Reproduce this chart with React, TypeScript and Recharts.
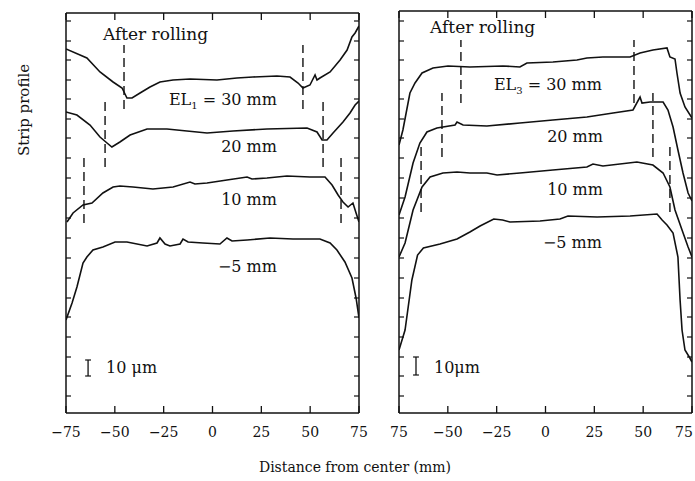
import React from 'react';
import { LineChart, Line, XAxis, YAxis, ReferenceLine, ReferenceDot } from 'recharts';

// x: distance from center (mm), y: profile height above the frame bottom (chart units, 10 um = 16)
const X_TICKS = [-75, -50, -25, 0, 25, 50, 75];
const X_LABELS_LEFT = ['−75', '−50', '−25', '0', '25', '50', '75'];
const X_LABELS_RIGHT = ['75', '−50', '−25', '0', '25', '50', '75'];
const Y_TICKS = [17, 37, 56, 76, 96, 115, 135, 155, 175, 195, 215, 235, 255, 275, 294, 314, 333, 353, 372, 392];

// left panel, EL1 = 30, 20, 10, -5 mm
const left30: [number, number][] = [
  [-75, 364], [-64.3, 355], [-57.6, 341], [-50.9, 331], [-46.3, 325], [-43.8, 315], [-41.2, 315],
  [-37.1, 320], [-32, 326], [-26.9, 331], [-20.2, 333], [-11.5, 334], [2.3, 333], [12.5, 335],
  [20.7, 336], [33, 337], [39.7, 336], [43.8, 330], [46.3, 325], [49.9, 328], [52.5, 338],
  [53.5, 333], [55, 335], [60.2, 341], [65.3, 353], [68.9, 363], [71.4, 376], [73, 380], [75, 387],
];
const left20: [number, number][] = [
  [-75, 301], [-69.4, 298], [-62.7, 288], [-57.6, 276], [-54, 270], [-51.5, 266], [-47.4, 271],
  [-42.2, 278], [-33.5, 284], [-23.3, 284], [-13.1, 282], [-2.8, 280], [10.5, 282], [27.9, 284],
  [48.4, 285], [53.5, 281], [56.1, 273], [58.6, 273], [61.7, 280], [66.8, 291], [70.4, 300],
  [73, 308], [75, 312],
];
const left10: [number, number][] = [
  [-74.5, 191], [-71.4, 200], [-66.3, 208], [-61.7, 210], [-56.1, 220], [-50.9, 226], [-47.4, 227],
  [-40.7, 226], [-30.5, 224], [-20.2, 226], [-11.5, 231], [-9, 229], [-2.8, 230], [7.4, 233],
  [17.7, 236], [20.2, 234], [27.9, 235], [38.1, 237], [49.9, 236], [57.6, 236], [61.2, 228],
  [64.3, 218], [66.8, 211], [69.4, 206], [71.9, 210], [73.5, 200], [75, 191],
];
const leftM5: [number, number][] = [
  [-75, 93], [-71.9, 110], [-69.4, 126], [-66.3, 150], [-64.3, 156], [-61.2, 163], [-56.1, 166],
  [-49.9, 171], [-43.8, 171], [-33.5, 167], [-28.4, 170], [-26.9, 175], [-24.3, 169], [-21.8, 167],
  [-16.6, 169], [-15.1, 174], [-12.5, 171], [-4.9, 170], [3.8, 169], [7.4, 175], [10, 172],
  [17.7, 173], [29.4, 175], [41.2, 174], [55, 174], [60.2, 170], [63.7, 163], [67.8, 151],
  [71.4, 135], [73.5, 115], [75, 95],
];

// right panel, EL3 = 30, 20, 10, -5 mm
const right30: [number, number][] = [
  [-75, 268], [-73, 283], [-69.4, 320], [-66.8, 330], [-63.2, 340], [-57.6, 345], [-49.9, 347],
  [-38.7, 346], [-21.8, 347], [-13.1, 346], [-9.5, 350], [3.8, 351], [16.1, 353], [21.2, 355],
  [29.4, 356], [43.3, 356], [48.4, 360], [55, 363], [62.2, 365], [63.7, 356], [66.3, 354],
  [67.3, 340], [68.9, 320], [71.4, 306], [75, 295],
];
const right20: [number, number][] = [
  [-75, 198], [-71.9, 216], [-67.8, 250], [-64.3, 270], [-60.7, 281], [-55.6, 285], [-46.3, 288],
  [-45.3, 291], [-42.2, 288], [-30, 287], [-13.1, 290], [3.8, 293], [21.2, 296], [34.6, 300],
  [44.8, 303], [48.4, 316], [49.4, 310], [53.5, 311], [60.2, 311], [62.7, 303], [65.3, 286],
  [67.8, 263], [70.4, 240], [73, 220], [75, 212],
];
const right10: [number, number][] = [
  [-75, 156], [-71.9, 170], [-67.8, 203], [-63.2, 226], [-59.1, 236], [-52.5, 240], [-45.3, 241],
  [-38.7, 240], [-30, 240], [-24.8, 238], [-13.1, 240], [3.8, 243], [21.2, 246], [24.3, 249],
  [29.4, 247], [46.8, 251], [55, 248], [60.2, 240], [63.7, 226], [66.3, 203], [69.9, 183],
  [73, 166], [75, 156],
];
const rightM5: [number, number][] = [
  [-75, 63], [-71.9, 83], [-68.4, 133], [-65.5, 158], [-62.5, 165], [-54, 169], [-45.3, 174],
  [-38.7, 181], [-33.5, 187], [-26.5, 194], [-22, 193], [-18.2, 191], [-2.8, 192], [7.4, 194],
  [11.5, 197], [26.4, 196], [43.3, 197], [57.1, 199], [59.7, 193], [62.2, 188], [65.3, 180],
  [67.8, 156], [68.9, 113], [69.9, 83], [71.4, 63], [73.9, 55], [75, 51],
];

// dashed edge markers: [x, yFrom, yTo]
const leftDashes: [number, number, number][] = [
  [-45.3, 304, 368], [46.3, 304, 368],
  [-55, 246, 311], [56.6, 246, 311],
  [-65.8, 190, 255], [65.8, 190, 255],
];
const rightDashes: [number, number, number][] = [
  [-43.3, 310, 373], [45.3, 310, 373],
  [-53, 256, 320], [55, 256, 320],
  [-63.7, 201, 266], [63.7, 201, 266],
];

type Note = { x: number; y: number; text: string; sub?: string; rest?: string; anchor: 'start' | 'end'; size?: number };

const leftNotes: Note[] = [
  { x: -56.1, y: 373, text: 'After rolling', anchor: 'start', size: 17 },
  { x: 33, y: 308, text: 'EL', sub: '1', rest: ' = 30 mm', anchor: 'end' },
  { x: 33, y: 261, text: '20 mm', anchor: 'end' },
  { x: 33, y: 208, text: '10 mm', anchor: 'end' },
  { x: 33, y: 141, text: '−5 mm', anchor: 'end' },
  { x: -54.5, y: 40, text: '10 μm', anchor: 'start' },
];
const rightNotes: Note[] = [
  { x: -59.1, y: 380, text: 'After rolling', anchor: 'start', size: 17 },
  { x: 28.9, y: 323, text: 'EL', sub: '3', rest: ' = 30 mm', anchor: 'end' },
  { x: 29.4, y: 271, text: '20 mm', anchor: 'end' },
  { x: 29.4, y: 218, text: '10 mm', anchor: 'end' },
  { x: 28.9, y: 165, text: '−5 mm', anchor: 'end' },
  { x: -57.1, y: 40, text: '10μm', anchor: 'start' },
];

// 10 um scale bar: [x, yFrom, yTo]
const leftBar: [number, number, number] = [-63.7, 37, 53];
const rightBar: [number, number, number] = [-66.3, 38, 56];

const FONT = "'DejaVu Serif', 'Liberation Serif', serif";
const AXIS = { stroke: '#111', strokeWidth: 1.5 };

const toPts = (a: [number, number][]) => a.map(([x, y]) => ({ x, y }));

function bottomTick(labels: string[], maxX: number) {
  return (p: any) => (
    <g>
      <line x1={p.x} y1={p.y} x2={p.x} y2={p.y - 7} stroke="#111" strokeWidth={1.3} />
      <text x={Math.min(p.x, maxX)} y={p.y + 24} textAnchor="middle" fontFamily={FONT} fontSize={14} fill="#111">
        {labels[X_TICKS.indexOf(p.payload.value)]}
      </text>
    </g>
  );
}
const topTick = (p: any) => <line x1={p.x} y1={p.y} x2={p.x} y2={p.y + 7} stroke="#111" strokeWidth={1.3} />;
const leftTick = (p: any) => <line x1={p.x} y1={p.y} x2={p.x + 5} y2={p.y} stroke="#111" strokeWidth={1.2} />;
const rightTick = (p: any) => <line x1={p.x} y1={p.y} x2={p.x - 5} y2={p.y} stroke="#111" strokeWidth={1.2} />;

interface PanelProps {
  left: number;
  width: number;
  margin: { top: number; right: number; left: number; bottom: number };
  yMax: number;
  traces: [number, number][][];
  dashes: [number, number, number][];
  notes: Note[];
  bar: [number, number, number];
  xLabels: string[];
}

function Panel({ left, width, margin, yMax, traces, dashes, notes, bar, xLabels }: PanelProps) {
  const ids = { xAxisId: 'b', yAxisId: 'l' };
  return (
    <div style={{ position: 'absolute', left, top: 0 }}>
      <LineChart width={width} height={481} margin={margin}>
        <XAxis xAxisId="b" type="number" dataKey="x" domain={[-75, 75]} ticks={X_TICKS} interval={0}
          allowDataOverflow height={30} tickSize={0} tickMargin={0} tickLine={false} axisLine={AXIS}
          tick={bottomTick(xLabels, width - 11)} />
        <XAxis xAxisId="t" orientation="top" type="number" dataKey="x" domain={[-75, 75]} ticks={X_TICKS}
          interval={0} allowDataOverflow height={1} tickSize={0} tickMargin={0} tickLine={false}
          axisLine={AXIS} tick={topTick} />
        <YAxis yAxisId="l" type="number" domain={[0, yMax]} ticks={Y_TICKS} interval={0} allowDataOverflow
          width={1} tickSize={0} tickMargin={0} tickLine={false} axisLine={AXIS} tick={leftTick} />
        <YAxis yAxisId="r" orientation="right" type="number" domain={[0, yMax]} ticks={Y_TICKS} interval={0}
          allowDataOverflow width={1} tickSize={0} tickMargin={0} tickLine={false} axisLine={AXIS}
          tick={rightTick} />
        {traces.map((t, i) => (
          <Line key={i} {...ids} data={toPts(t)} dataKey="y" type="linear" stroke="#111" strokeWidth={1.6}
            dot={false} isAnimationActive={false} />
        ))}
        {dashes.map(([x, y1, y2], i) => (
          <ReferenceLine key={`d${i}`} {...ids} segment={[{ x, y: y1 }, { x, y: y2 }]} stroke="#111"
            strokeWidth={1.4} strokeDasharray="9 5" />
        ))}
        <ReferenceLine {...ids} segment={[{ x: bar[0], y: bar[1] }, { x: bar[0], y: bar[2] }]} stroke="#111" strokeWidth={1.3} />
        <ReferenceLine {...ids} segment={[{ x: bar[0] - 1.5, y: bar[1] }, { x: bar[0] + 1.5, y: bar[1] }]} stroke="#111" strokeWidth={1.2} />
        <ReferenceLine {...ids} segment={[{ x: bar[0] - 1.5, y: bar[2] }, { x: bar[0] + 1.5, y: bar[2] }]} stroke="#111" strokeWidth={1.2} />
        {notes.map((n, i) => (
          <ReferenceDot key={`n${i}`} {...ids} x={n.x} y={n.y} r={0}
            shape={(p: any) => (
              <text x={p.cx} y={p.cy} textAnchor={n.anchor} fontFamily={FONT} fontSize={n.size ?? 16} fill="#111">
                {n.text}
                {n.sub && <tspan fontSize={10} dy={4}>{n.sub}</tspan>}
                {n.rest && <tspan dy={n.sub ? -4 : 0}>{n.rest}</tspan>}
              </text>
            )} />
        ))}
      </LineChart>
    </div>
  );
}

export default function App() {
  return (
    <div style={{ position: 'absolute', left: 0, top: 0, width: 695, height: 481, background: '#fff', overflow: 'hidden' }}>
      <Panel left={0} width={370} margin={{ top: 12, right: 10, left: 65, bottom: 38 }} yMax={400}
        traces={[left30, left20, left10, leftM5]} dashes={leftDashes} notes={leftNotes} bar={leftBar}
        xLabels={X_LABELS_LEFT} />
      <Panel left={370} width={325} margin={{ top: 10, right: 2, left: 28, bottom: 38 }} yMax={402}
        traces={[right30, right20, right10, rightM5]} dashes={rightDashes} notes={rightNotes} bar={rightBar}
        xLabels={X_LABELS_RIGHT} />
      <svg width={695} height={481} style={{ position: 'absolute', left: 0, top: 0, pointerEvents: 'none' }}>
        <text x={29} y={110} transform="rotate(-90 29 110)" textAnchor="middle" fontFamily={FONT} fontSize={15} fill="#111">
          Strip profile
        </text>
        <text x={355} y={472} textAnchor="middle" fontFamily={FONT} fontSize={14} fill="#111">
          Distance from center  (mm)
        </text>
      </svg>
    </div>
  );
}
